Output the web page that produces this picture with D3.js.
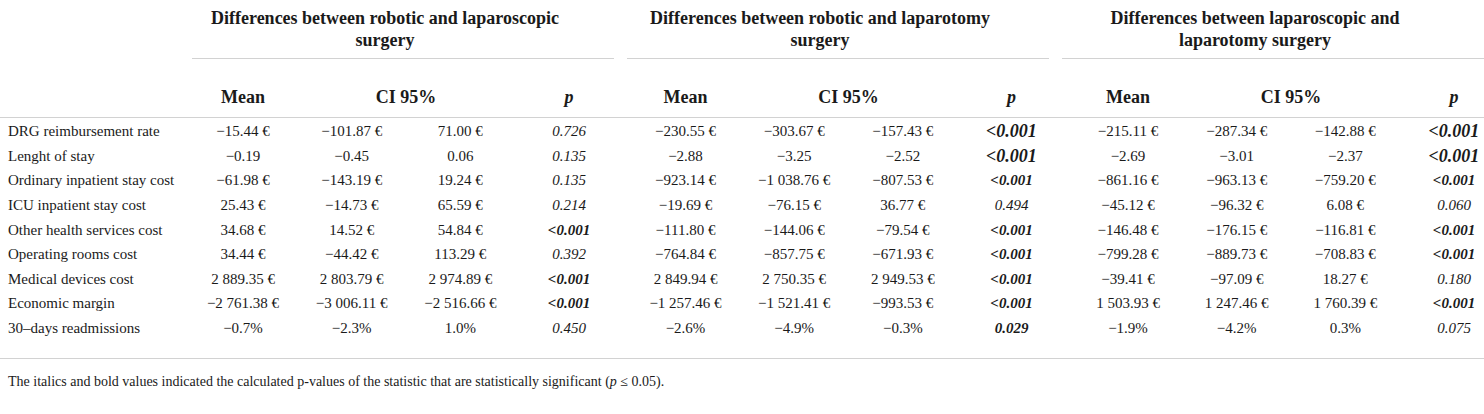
<!DOCTYPE html>
<html>
<head>
<meta charset="utf-8">
<script src="https://cdn.jsdelivr.net/npm/d3@7"></script>
<style>
  html, body { margin: 0; padding: 0; background: #fff; }
  svg { display: block; }
</style>
</head>
<body>
<svg id="tbl" width="1484" height="414"></svg>
<script>
// Table data
const rowLabels = [
  "DRG reimbursement rate", "Lenght of stay", "Ordinary inpatient stay cost",
  "ICU inpatient stay cost", "Other health services cost", "Operating rooms cost",
  "Medical devices cost", "Economic margin", "30\u2013days readmissions"
];
const rowUnits = ["€", "", "€", "€", "€", "€", "€", "€", "%"];

const groupTitles = [
  ["Differences between robotic and laparoscopic", "surgery"],
  ["Differences between robotic and laparotomy", "surgery"],
  ["Differences between laparoscopic and", "laparotomy surgery"]
];
const colKeys = ["mean", "lo", "hi", "p"];

// robotic vs laparoscopic
const mean1 = [-15.44, -0.19, -61.98, 25.43, 34.68, 34.44, 2889.35, -2761.38, -0.7];
const lo1   = [-101.87, -0.45, -143.19, -14.73, 14.52, -44.42, 2803.79, -3006.11, -2.3];
const hi1   = [71.00, 0.06, 19.24, 65.59, 54.84, 113.29, 2974.89, -2516.66, 1.0];
const p1    = ["0.726", "0.135", "0.135", "0.214", "<0.001", "0.392", "<0.001", "<0.001", "0.450"];

// robotic vs laparotomy
const mean2 = [-230.55, -2.88, -923.14, -19.69, -111.80, -764.84, 2849.94, -1257.46, -2.6];
const lo2   = [-303.67, -3.25, -1038.76, -76.15, -144.06, -857.75, 2750.35, -1521.41, -4.9];
const hi2   = [-157.43, -2.52, -807.53, 36.77, -79.54, -671.93, 2949.53, -993.53, -0.3];
const p2    = ["<0.001", "<0.001", "<0.001", "0.494", "<0.001", "<0.001", "<0.001", "<0.001", "0.029"];

// laparoscopic vs laparotomy
const mean3 = [-215.11, -2.69, -861.16, -45.12, -146.48, -799.28, -39.41, 1503.93, -1.9];
const lo3   = [-287.34, -3.01, -963.13, -96.32, -176.15, -889.73, -97.09, 1247.46, -4.2];
const hi3   = [-142.88, -2.37, -759.20, 6.08, -116.81, -708.83, 18.27, 1760.39, 0.3];
const p3    = ["<0.001", "<0.001", "<0.001", "0.060", "<0.001", "<0.001", "0.180", "<0.001", "0.075"];

const groups = [
  { mean: mean1, lo: lo1, hi: hi1, p: p1 },
  { mean: mean2, lo: lo2, hi: hi2, p: p2 },
  { mean: mean3, lo: lo3, hi: hi3, p: p3 }
];

(function () {
  const svg = d3.select("#tbl");
  const serif = "'Liberation Serif', 'Times New Roman', serif";
  const ink = "#1a1a1a", rule = "#d2d2d2";

  const loc = d3.formatLocale({
    decimal: ".", thousands: " ", grouping: [3],
    currency: ["", ""], minus: "\u2212"
  });
  const f2 = loc.format(",.2f"), f1 = loc.format(",.1f");
  const fmt = (v, u) => u === "%" ? f1(v) + "%" : u === "€" ? f2(v) + "\u00a0€" : f2(v);

  // group bands (rules + titles), group anchor = Mean column, sub-column offsets
  const gx = d3.scaleBand().domain(d3.range(3)).range([192, 1484]).paddingInner(0.03);
  const gm = d3.scalePoint().domain(d3.range(3)).range([243, 1128]);
  const cx = d3.scalePoint().domain(colKeys).range([0, 326]);
  const y = d3.scalePoint().domain(d3.range(rowLabels.length)).range([131, 328]);

  const txt = (x, yy, s) => svg.append("text")
    .attr("x", x).attr("y", yy)
    .attr("font-family", serif).attr("fill", ink).text(s);

  groupTitles.forEach((lines, g) => {
    const mid = gx(g) + gx.bandwidth() / 2 - 18;
    lines.forEach((l, i) => {
      txt(mid, 24 + i * 22, l)
        .attr("text-anchor", "middle").attr("font-size", 18).attr("font-weight", 700);
    });
    svg.append("line")
      .attr("x1", gx(g)).attr("x2", gx(g) + gx.bandwidth())
      .attr("y1", 58.5).attr("y2", 58.5)
      .attr("stroke", rule).attr("stroke-width", 1.2);

    // column headers
    const c = k => gm(g) + cx(k);
    const hy = 103;
    txt(c("mean"), hy, "Mean").attr("text-anchor", "middle")
      .attr("font-size", 18).attr("font-weight", 700);
    txt((c("lo") + c("hi")) / 2, hy, "CI 95%").attr("text-anchor", "middle")
      .attr("font-size", 18).attr("font-weight", 700);
    txt(c("p"), hy, "p").attr("text-anchor", "middle")
      .attr("font-size", 18).attr("font-weight", 700).attr("font-style", "italic");

    // body cells
    const d = groups[g];
    rowLabels.forEach((_, r) => {
      const yy = y(r) + 5;
      ["mean", "lo", "hi"].forEach(k => {
        txt(c(k), yy, fmt(d[k][r], rowUnits[r]))
          .attr("text-anchor", "middle").attr("font-size", 15);
      });
      const pv = d.p[r];
      const sig = pv.startsWith("<") || +pv <= 0.05;
      const big = sig && r < 2;
      txt(c("p"), yy + (big ? 1 : 0), pv)
        .attr("text-anchor", "middle")
        .attr("font-size", big ? 18 : 15)
        .attr("font-weight", sig ? 700 : 400)
        .attr("font-style", "italic");
    });
  });

  // row labels
  rowLabels.forEach((l, r) => txt(8, y(r) + 5, l).attr("font-size", 15));

  // full-width rules
  [117.5, 358.5].forEach(yy => svg.append("line")
    .attr("x1", 0).attr("x2", 1484).attr("y1", yy).attr("y2", yy)
    .attr("stroke", rule).attr("stroke-width", 1.2));

  // footnote
  const fn = txt(8, 386, "").attr("font-size", 14);
  fn.append("tspan").text("The italics and bold values indicated the calculated p-values of the statistic that are statistically significant (");
  fn.append("tspan").attr("font-style", "italic").text("p");
  fn.append("tspan").text(" \u2264 0.05).");
})();
</script>
</body>
</html>
